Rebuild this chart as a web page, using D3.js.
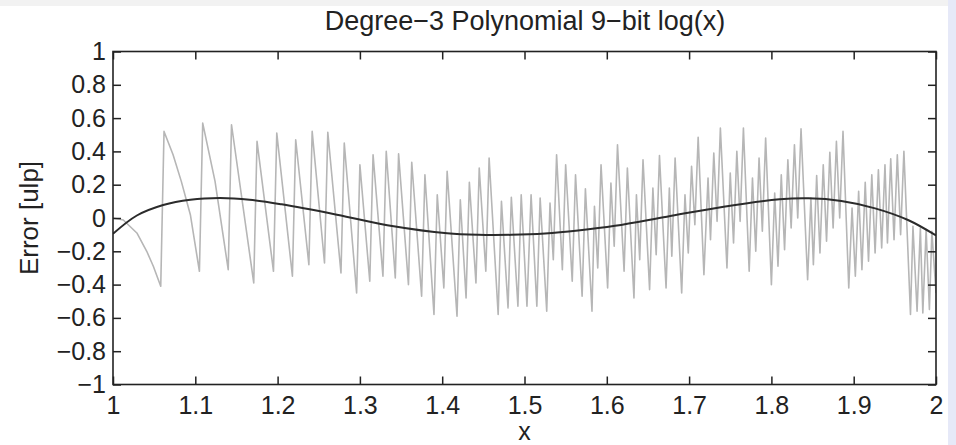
<!DOCTYPE html>
<html>
<head>
<meta charset="utf-8">
<script src="https://cdn.jsdelivr.net/npm/d3@7"></script>
<style>
  html, body { margin: 0; padding: 0; background: #ffffff; }
  svg { display: block; font-family: "Liberation Sans", Arial, sans-serif; }
</style>
</head>
<body>
<svg id="chart" width="956" height="445"></svg>
<script>
// ---- data ----
const titleText = "Degree\u22123 Polynomial 9\u2212bit log(x)";
const xLabelText = "x";
const yLabelText = "Error [ulp]";

const xTickValues = [1, 1.1, 1.2, 1.3, 1.4, 1.5, 1.6, 1.7, 1.8, 1.9, 2];
const xTickLabels = ["1", "1.1", "1.2", "1.3", "1.4", "1.5", "1.6", "1.7", "1.8", "1.9", "2"];
const yTickValues = [-1, -0.8, -0.6, -0.4, -0.2, 0, 0.2, 0.4, 0.6, 0.8, 1];
const yTickLabels = ["\u22121", "\u22120.8", "\u22120.6", "\u22120.4", "\u22120.2", "0", "0.2", "0.4", "0.6", "0.8", "1"];

// gray: total error (sawtooth), turning points
const grayX = [
  1.000, 1.0125, 1.029, 1.041, 1.049, 1.058, 1.062, 1.073, 1.083, 1.094, 1.105,
  1.109, 1.124, 1.140, 1.144, 1.171, 1.175, 1.195, 1.199, 1.218, 1.222, 1.238,
  1.242, 1.257, 1.261, 1.277, 1.281, 1.296, 1.300, 1.312, 1.316, 1.328, 1.332,
  1.343, 1.347, 1.359, 1.363, 1.375, 1.379, 1.390, 1.394, 1.402, 1.406, 1.418,
  1.422, 1.429, 1.433, 1.441, 1.445, 1.453, 1.457, 1.468, 1.472, 1.480, 1.484,
  1.492, 1.496, 1.503, 1.508, 1.515, 1.519, 1.527, 1.531, 1.535, 1.539, 1.546,
  1.550, 1.558, 1.562, 1.570, 1.574, 1.582, 1.585, 1.589, 1.593, 1.601, 1.605,
  1.609, 1.613, 1.621, 1.625, 1.633, 1.636, 1.640, 1.644, 1.652, 1.656, 1.660,
  1.664, 1.672, 1.676, 1.679, 1.683, 1.691, 1.695, 1.699, 1.703, 1.707, 1.711,
  1.718, 1.723, 1.726, 1.730, 1.734, 1.738, 1.746, 1.750, 1.754, 1.758, 1.762,
  1.766, 1.773, 1.777, 1.781, 1.785, 1.789, 1.793, 1.800, 1.804, 1.808, 1.812,
  1.816, 1.820, 1.824, 1.828, 1.832, 1.836, 1.844, 1.848, 1.851, 1.855, 1.859,
  1.863, 1.867, 1.871, 1.875, 1.879, 1.883, 1.887, 1.894, 1.898, 1.902, 1.906,
  1.910, 1.914, 1.918, 1.922, 1.926, 1.930, 1.934, 1.938, 1.941, 1.945, 1.949,
  1.953, 1.957, 1.961, 1.969, 1.972, 1.977, 1.981, 1.984, 1.988, 1.992, 1.995,
  2.000
];
const grayY = [
  0.00, -0.012, -0.09, -0.20, -0.29, -0.41, 0.52, 0.38, 0.22, 0.02, -0.32,
  0.57, 0.22, -0.31, 0.56, -0.39, 0.46, -0.32, 0.51, -0.35, 0.47, -0.28,
  0.52, -0.27, 0.515, -0.33, 0.45, -0.45, 0.32, -0.38, 0.38, -0.35, 0.40,
  -0.36, 0.385, -0.40, 0.335, -0.47, 0.26, -0.58, 0.14, -0.42, 0.28, -0.59,
  0.11, -0.48, 0.215, -0.39, 0.30, -0.32, 0.36, -0.58, 0.10, -0.54, 0.125,
  -0.53, 0.14, -0.53, 0.14, -0.53, 0.12, -0.56, 0.09, -0.25, 0.38, -0.31,
  0.32, -0.38, 0.26, -0.47, 0.175, -0.56, 0.07, -0.30, 0.32, -0.42, 0.21,
  -0.17, 0.44, -0.32, 0.30, -0.48, 0.14, -0.25, 0.35, -0.43, 0.18, -0.22,
  0.375, -0.42, 0.18, -0.23, 0.36, -0.45, 0.14, -0.21, 0.31, -0.04, 0.485,
  -0.34, 0.24, -0.13, 0.39, -0.02, 0.54, -0.30, 0.27, -0.15, 0.40, -0.02,
  0.54, -0.32, 0.24, -0.20, 0.36, -0.08, 0.48, -0.40, 0.15, -0.29, 0.26,
  -0.19, 0.35, -0.06, 0.44, 0.00, 0.535, -0.37, 0.12, -0.28, 0.255, -0.21,
  0.32, -0.14, 0.395, -0.06, 0.46, 0.00, 0.52, -0.42, 0.06, -0.35, 0.16,
  -0.31, 0.215, -0.26, 0.26, -0.21, 0.29, -0.18, 0.32, -0.15, 0.355, -0.13,
  0.38, -0.10, 0.40, -0.58, -0.05, -0.56, -0.06, -0.57, -0.07, -0.55, -0.08,
  -0.45
];

// black: polynomial approximation error (smooth)
const blackX = [1.000, 1.029, 1.061, 1.094, 1.130, 1.166, 1.205, 1.272, 1.341, 1.406, 1.444,
                1.484, 1.525, 1.565, 1.610, 1.673, 1.742, 1.810, 1.845, 1.885, 1.926, 1.966, 2.000];
const blackY = [-0.095, 0.015, 0.078, 0.110, 0.120, 0.110, 0.082, 0.020, -0.050, -0.092, -0.101,
                -0.101, -0.093, -0.075, -0.047, 0.008, 0.068, 0.112, 0.118, 0.102, 0.058, -0.012, -0.105];

// ---- drawing ----
const W = 956, H = 445;
const plot = { left: 113, right: 936, top: 51.5, bottom: 384.5 };
const svg = d3.select("#chart");

// page decoration
svg.append("rect").attr("x", 0).attr("y", 0).attr("width", W).attr("height", H).attr("fill", "#ffffff");
svg.append("rect").attr("x", 0).attr("y", 0).attr("width", W).attr("height", 6).attr("fill", "#f2f2f2");
svg.append("rect").attr("x", 948).attr("y", 0).attr("width", W - 948).attr("height", H).attr("fill", "#e6e9f8");

const x = d3.scaleLinear().domain([1, 2]).range([plot.left, plot.right]);
const y = d3.scaleLinear().domain([-1, 1]).range([plot.bottom, plot.top]);

svg.append("clipPath").attr("id", "plotclip")
  .append("rect").attr("x", plot.left).attr("y", plot.top)
  .attr("width", plot.right - plot.left).attr("height", plot.bottom - plot.top);

const grayData = grayX.map((v, i) => [v, grayY[i]]);
const blackData = blackX.map((v, i) => [v, blackY[i]]);

const grayLine = d3.line().x(d => x(d[0])).y(d => y(d[1]));
const blackLine = d3.line().x(d => x(d[0])).y(d => y(d[1])).curve(d3.curveCatmullRom.alpha(0.5));

const g = svg.append("g").attr("clip-path", "url(#plotclip)");
g.append("path").datum(grayData).attr("d", grayLine)
  .attr("fill", "none").attr("stroke", "#b6b6b6").attr("stroke-width", 1.6)
  .attr("stroke-linejoin", "round");
g.append("path").datum(blackData).attr("d", blackLine)
  .attr("fill", "none").attr("stroke", "#2b2b2b").attr("stroke-width", 2);

// axes
const fontSize = 25;
const axisColor = "#222";

function styleAxis(sel, showLabels) {
  sel.select(".domain").remove();
  sel.selectAll(".tick line").attr("stroke", axisColor).attr("stroke-width", 1.5);
  sel.selectAll(".tick text")
    .attr("fill", "#222")
    .style("font-size", fontSize + "px")
    .style("font-family", "'Liberation Sans', Arial, sans-serif");
  if (!showLabels) sel.selectAll(".tick text").remove();
}

const xAxisB = d3.axisBottom(x).tickValues(xTickValues)
  .tickFormat((d, i) => xTickLabels[i]).tickSizeInner(-8).tickSizeOuter(0).tickPadding(12);
svg.append("g").attr("transform", `translate(0,${plot.bottom})`).call(xAxisB).call(s => styleAxis(s, true));

const xAxisT = d3.axisTop(x).tickValues(xTickValues).tickSizeInner(-8).tickSizeOuter(0);
svg.append("g").attr("transform", `translate(0,${plot.top})`).call(xAxisT).call(s => styleAxis(s, false));

const yAxisL = d3.axisLeft(y).tickValues(yTickValues)
  .tickFormat((d, i) => yTickLabels[i]).tickSizeInner(-8).tickSizeOuter(0).tickPadding(7);
svg.append("g").attr("transform", `translate(${plot.left},0)`).call(yAxisL).call(s => styleAxis(s, true));

const yAxisR = d3.axisRight(y).tickValues(yTickValues).tickSizeInner(-8).tickSizeOuter(0);
svg.append("g").attr("transform", `translate(${plot.right},0)`).call(yAxisR).call(s => styleAxis(s, false));

// frame
svg.append("rect").attr("x", plot.left).attr("y", plot.top)
  .attr("width", plot.right - plot.left).attr("height", plot.bottom - plot.top)
  .attr("fill", "none").attr("stroke", axisColor).attr("stroke-width", 1.6);

// labels
svg.append("text").attr("x", 525).attr("y", 30).attr("text-anchor", "middle")
  .style("font-size", "27px").attr("fill", "#222").text(titleText);
svg.append("text").attr("x", x(1.5)).attr("y", 440).attr("text-anchor", "middle")
  .style("font-size", "25px").attr("fill", "#222").text(xLabelText);
svg.append("text").attr("transform", `translate(38,${(plot.top + plot.bottom) / 2}) rotate(-90)`)
  .attr("text-anchor", "middle").style("font-size", "26px").attr("fill", "#222").text(yLabelText);
</script>
</body>
</html>
